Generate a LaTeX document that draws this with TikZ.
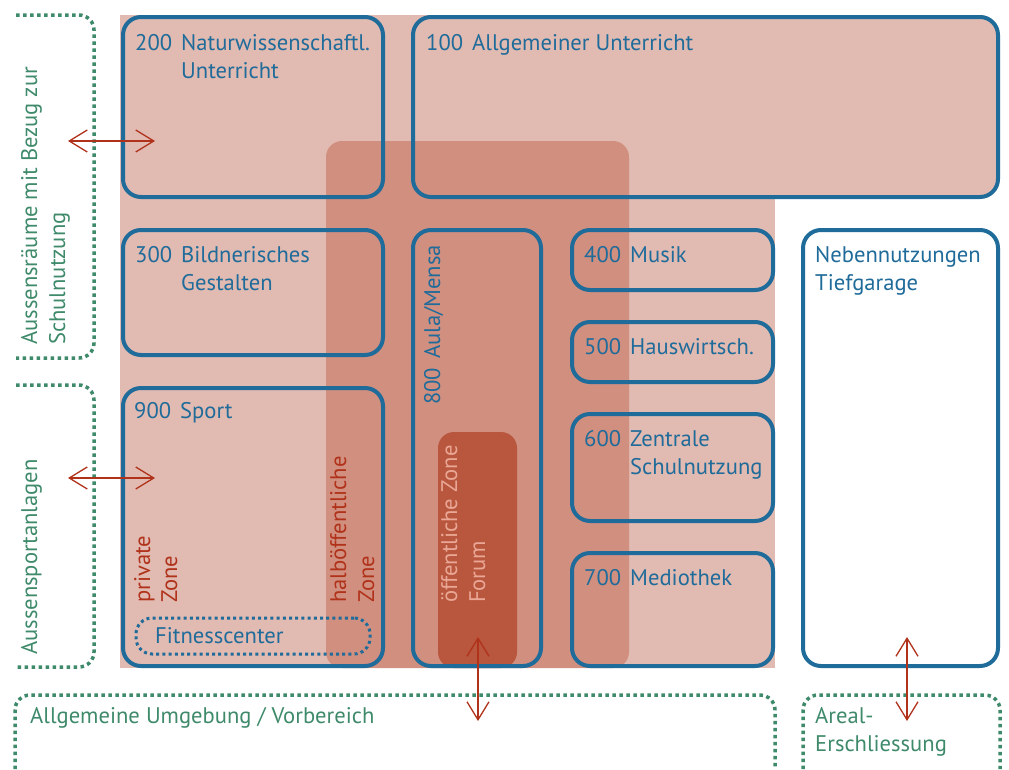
\documentclass[tikz,border=0pt]{standalone}
\usepackage{fontspec}
\setmainfont{PT Sans}
\usetikzlibrary{arrows.meta}
\definecolor{pinkA}{HTML}{E1BAB1}
\definecolor{pinkB}{HTML}{D18F7F}
\definecolor{pinkC}{HTML}{B9573E}
\definecolor{boxblue}{HTML}{1F6B9A}
\definecolor{zgreen}{HTML}{3F8A6B}
\definecolor{zred}{HTML}{B0321A}
\definecolor{forumtxt}{HTML}{EAA796}
\begin{document}
\begin{tikzpicture}[x=1pt,y=-1pt,
  room/.style={draw=boxblue, line width=4pt, rounded corners=18pt, rectangle,
    anchor=north west, inner sep=0pt, outer sep=0pt},
  txt/.style={inner sep=0pt, anchor=base west, font=\fontsize{22.6}{26}\selectfont},
  bl/.style={txt, text=boxblue},
  gr/.style={txt, text=zgreen},
  rd/.style={txt, text=zred},
  vert/.style={rotate=90},
  gdot/.style={draw=zgreen, line width=3.5pt, dash pattern=on 3.5pt off 3.5pt, rounded corners=15pt},
  bidir/.style={draw=zred, line width=1.3pt, {Straight Barb[length=18pt,width=22pt,line width=1.3pt]}-{Straight Barb[length=18pt,width=22pt,line width=1.3pt]}}
]
\useasboundingbox (0,0) rectangle (1009,769);
% zones
\fill[pinkA] (120,15) rectangle (775,668);
\fill[pinkA, rounded corners=18pt] (413,15) rectangle (998,197);
\fill[pinkA] (413,15) rectangle (500,100);
\fill[pinkB, rounded corners=16pt] (326,141) rectangle (629,668);
\fill[pinkC, rounded corners=16pt] (438,432) rectangle (517,668);
% rooms
\node[room, minimum width=260pt, minimum height=180pt] (r200) at (123,17) {};
\node[room, minimum width=585pt, minimum height=180pt] (r100) at (413,17) {};
\node[room, minimum width=260pt, minimum height=125pt] (r300) at (123,230) {};
\node[room, minimum width=128pt, minimum height=436pt] (r800) at (413,230) {};
\node[room, minimum width=201pt, minimum height=60pt] (r400) at (572,230) {};
\node[room, minimum width=201pt, minimum height=60pt] (r500) at (572,322) {};
\node[room, minimum width=201pt, minimum height=107pt] (r600) at (572,414) {};
\node[room, minimum width=201pt, minimum height=113pt] (r700) at (572,553) {};
\node[room, fill=white, minimum width=195pt, minimum height=436pt] (rneb) at (803,230) {};
\node[room, minimum width=260pt, minimum height=278pt] (r900) at (123,388) {};
\node[draw=boxblue, line width=3pt, dash pattern=on 3pt off 3.2pt, rounded corners=16pt, rectangle,
  anchor=north west, inner sep=0pt, outer sep=0pt, minimum width=234pt, minimum height=36pt] (fit) at (136,618) {};
% room labels
\node[bl] (t200a) at (135,50) {200};
\node[bl] (t200b) at (181,50) {Naturwissenschaftl.};
\node[bl] (t200c) at (181,78) {Unterricht};
\node[bl] (t100a) at (426,50) {100};
\node[bl] (t100b) at (472,50) {Allgemeiner Unterricht};
\node[bl] (t300a) at (135,262) {300};
\node[bl] (t300b) at (181,262) {Bildnerisches};
\node[bl] (t300c) at (181,290) {Gestalten};
\node[bl] (t400a) at (584,262) {400};
\node[bl] (t400b) at (630,262) {Musik};
\node[bl] (t500a) at (584,354) {500};
\node[bl] (t500b) at (630,354) {Hauswirtsch.};
\node[bl] (t600a) at (584,446) {600};
\node[bl] (t600b) at (630,446) {Zentrale};
\node[bl] (t600c) at (630,474) {Schulnutzung};
\node[bl] (t700a) at (584,585) {700};
\node[bl] (t700b) at (630,585) {Mediothek};
\node[bl] (t900a) at (134,418) {900};
\node[bl] (t900b) at (180,418) {Sport};
\node[bl] (tneba) at (815,262) {Nebennutzungen};
\node[bl] (tnebb) at (815,290) {Tiefgarage};
\node[bl, vert] (t800a) at (440,405) {800};
\node[bl, vert] (t800b) at (440,359) {Aula/Mensa};
\node[bl] (tfit) at (155,643) {Fitnesscenter};
% zone labels
\node[rd, vert] (zpa) at (150,603) {private};
\node[rd, vert] (zpb) at (177,603) {Zone};
\node[rd, vert] (zha) at (346,603) {halböffentliche};
\node[rd, vert] (zhb) at (374,603) {Zone};
\node[txt, text=forumtxt, vert] (zoa) at (457,603) {öffentliche Zone};
\node[txt, text=forumtxt, vert] (zob) at (485,603) {Forum};
% outside areas
\draw[gdot] (16,15) -- (94,15) -- (94,358) -- (16,358);
\draw[gdot] (16,385) -- (94,385) -- (94,667) -- (16,667);
\draw[gdot] (15,769) -- (15,695) -- (775,695) -- (775,769);
\draw[gdot] (803,769) -- (803,695) -- (1000,695) -- (1000,769);
\node[gr, vert] (ga1) at (37,345) {Aussensräume mit Bezug zur};
\node[gr, vert] (ga2) at (65,345) {Schulnutzung};
\node[gr, vert] (gb) at (37,655) {Aussensportanlagen};
\node[gr] (gc) at (30,723) {Allgemeine Umgebung / Vorbereich};
\node[gr] (gd1) at (815,723) {Areal-};
\node[gr] (gd2) at (815,751) {Erschliessung};
% connectors
\coordinate (a1l) at (68,141); \coordinate (a1r) at (155,141);
\coordinate (a2l) at (68,478); \coordinate (a2r) at (155,478);
\coordinate (a3t) at (478,637); \coordinate (a3b) at (478,721);
\coordinate (a4t) at (907,637); \coordinate (a4b) at (907,721);
\draw[bidir] (a1l) -- (a1r);
\draw[bidir] (a2l) -- (a2r);
\draw[bidir] (a3t) -- (a3b);
\draw[bidir] (a4t) -- (a4b);
\end{tikzpicture}
\end{document}
